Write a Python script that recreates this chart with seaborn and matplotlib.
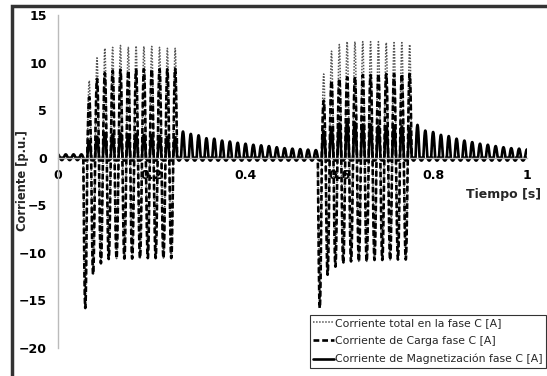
import numpy as np
import pandas as pd
import matplotlib
matplotlib.use("Agg")
import matplotlib.pyplot as plt
from matplotlib.patches import Rectangle
import seaborn as sns

# ---------------- data ----------------
FREQ = 60.0                 # Hz
T0 = 0.004                  # first negative-going zero crossing used as cycle origin
N_CYCLES = 61               # cycles k = -1 .. 59

# magnetization current: positive peak per cycle (k=-1..59)
mag_pos = ([0.35, 0.35, 0.35, 0.35] +
           [1.75, 2.2, 2.6, 2.45, 2.55, 2.45, 2.5, 2.4, 2.4, 2.3, 2.2, 2.15] +
           [2.75, 2.5, 2.35, 2.05, 2.0, 1.8, 1.7, 1.57, 1.47, 1.36, 1.3, 1.22,
            1.1, 1.0, 0.95, 0.9, 0.85, 0.8] +
           [2.8, 3.1, 3.6, 3.75, 3.7, 3.5, 3.5, 3.3, 3.3, 3.3, 3.3, 3.1] +
           [3.45, 2.85, 2.7, 2.4, 2.27, 2.0, 1.8, 1.64, 1.47, 1.36, 1.22, 1.1,
            1.0, 0.95, 0.87])
# magnetization current: negative trough per cycle
mag_neg = ([-0.25] * 4 + [-0.3] * 12 + [-0.3] * 18 + [-0.3] * 12 + [-0.3] * 15)

# switching pulses: first cycle index of each pulse (12 cycles each)
pulse_start = [4, 34]       # list index (k + 1)

# load current peaks during pulses
load_max = [[6.35, 8.3, 8.9, 9.15, 9.25, 9.15, 9.25, 9.3, 9.3, 9.3, 9.3, 9.35],
            [6.0, 8.1, 8.3, 8.45, 8.5, 8.7, 8.7, 8.8, 8.8, 8.8, 8.8, 8.8]]
load_min = [[-15.8, -12.25, -11.1, -10.65, -10.6, -10.6, -10.6, -10.55, -10.55, -10.55, -10.55, -10.55],
            [-15.8, -12.3, -11.45, -11.1, -10.9, -10.9, -10.9, -10.75, -10.75, -10.75, -10.7, -10.7]]
# total current peaks during pulses
total_max = [[8.1, 10.5, 11.5, 11.6, 11.8, 11.6, 11.75, 11.7, 11.7, 11.6, 11.5, 11.5],
             [8.8, 11.2, 11.9, 12.2, 12.2, 12.2, 12.2, 12.2, 12.1, 12.1, 12.1, 11.9]]

series_names = ["Corriente total en la fase C [A]",
                "Corriente de Carga fase C [A]",
                "Corriente de Magnetización fase C [A]"]

x_ticks = [0, 0.2, 0.4, 0.6, 0.8, 1]
x_ticklabels = ["0", "0.2", "0.4", "0.6", "0.8", "1"]
y_ticks = [-20, -15, -10, -5, 0, 5, 10, 15]

# ---------------- build per-cycle peak tables ----------------
load_pos = [0.0] * N_CYCLES
load_neg = [0.0] * N_CYCLES
tot_pos = list(mag_pos)
tot_neg = list(mag_neg)
for p, s in enumerate(pulse_start):
    for j in range(12):
        load_pos[s + j] = load_max[p][j]
        load_neg[s + j] = load_min[p][j]
        tot_pos[s + j] = total_max[p][j]
        tot_neg[s + j] = load_min[p][j]

period = 1.0 / FREQ
npts = 48


def wave(pos, neg):
    ts, ys = [], []
    for i in range(N_CYCLES):
        tk = T0 + (i - 1) * period
        ph = np.linspace(0, 1, npts, endpoint=False)
        t = tk + ph * period
        y = np.where(ph < 0.5, -abs(neg[i]) * np.sin(2 * np.pi * ph),
                     -pos[i] * np.sin(2 * np.pi * ph))
        ts.append(t)
        ys.append(y)
    t = np.concatenate(ts)
    y = np.concatenate(ys)
    m = (t >= 0) & (t <= 1.0)
    return t[m], y[m]


t_tot, y_tot = wave(tot_pos, tot_neg)
t_load, y_load = wave(load_pos, load_neg)
t_mag, y_mag = wave(mag_pos, mag_neg)

df_tot = pd.DataFrame({"t": t_tot, "i": y_tot})
df_load = pd.DataFrame({"t": t_load, "i": y_load})
df_mag = pd.DataFrame({"t": t_mag, "i": y_mag})

# ---------------- plot ----------------
sns.set_theme(style="white")
plt.rcParams["font.family"] = ["DejaVu Sans"]

fig = plt.figure(figsize=(5.47, 3.76), dpi=100)
fig.patch.set_facecolor("white")
ax = fig.add_axes([58 / 547, 1 - 348 / 376, (527 - 58) / 547, (348 - 15) / 376])

sns.lineplot(data=df_tot, x="t", y="i", ax=ax, estimator=None, sort=False,
             color="#555555", linewidth=1.1, linestyle=(0, (1, 1)),
             label=series_names[0], legend=False)
sns.lineplot(data=df_load, x="t", y="i", ax=ax, estimator=None, sort=False,
             color="black", linewidth=1.9, linestyle=(0, (2.2, 1.1)),
             label=series_names[1], legend=False)
sns.lineplot(data=df_mag, x="t", y="i", ax=ax, estimator=None, sort=False,
             color="black", linewidth=1.9, linestyle="-",
             label=series_names[2], legend=False)

ax.set_xlim(0, 1)
ax.set_ylim(-20, 15)
ax.set_xlabel("")
ax.set_ylabel("")
ax.set_axisbelow(True)

for s in ["top", "right"]:
    ax.spines[s].set_visible(False)
ax.spines["left"].set_color("#bbbbbb")
ax.spines["left"].set_linewidth(1.0)
ax.spines["bottom"].set_position(("data", 0))
ax.spines["bottom"].set_color("#bbbbbb")
ax.spines["bottom"].set_linewidth(1.0)

ax.set_xticks(x_ticks)
ax.set_xticklabels(x_ticklabels)
ax.set_yticks(y_ticks)
ax.tick_params(axis="x", length=0, pad=8, labelsize=9, colors="black")
ax.tick_params(axis="y", direction="out", length=3, width=1, color="#bbbbbb",
               pad=5, labelsize=9, labelcolor="black")
for lab in ax.get_xticklabels() + ax.get_yticklabels():
    lab.set_fontweight("bold")

fig.text(23 / 547, 1 - 181 / 376, "Corriente [p.u.]", rotation=90,
         ha="center", va="center", fontsize=8.3, fontweight="bold")
fig.text(541 / 547, 1 - 195 / 376, "Tiempo [s]", ha="right", va="center",
         fontsize=9, fontweight="bold")

handles = ax.get_lines()[:3]
leg = fig.legend(handles, series_names, loc="upper left",
                 bbox_to_anchor=(310 / 547, 1 - 315 / 376),
                 bbox_transform=fig.transFigure, frameon=True, fancybox=False,
                 fontsize=7.8, borderpad=0.3, labelspacing=0.72,
                 handlelength=1.9, handletextpad=0.12, borderaxespad=0)
leg.get_frame().set_edgecolor("black")
leg.get_frame().set_linewidth(0.8)

fig.patches.append(Rectangle((12 / 547, -0.05), 1.2, 1 - 6 / 376 + 0.05,
                             transform=fig.transFigure, fill=False,
                             linewidth=2.5, edgecolor="#333333"))

fig.savefig("out.png", dpi=100)
